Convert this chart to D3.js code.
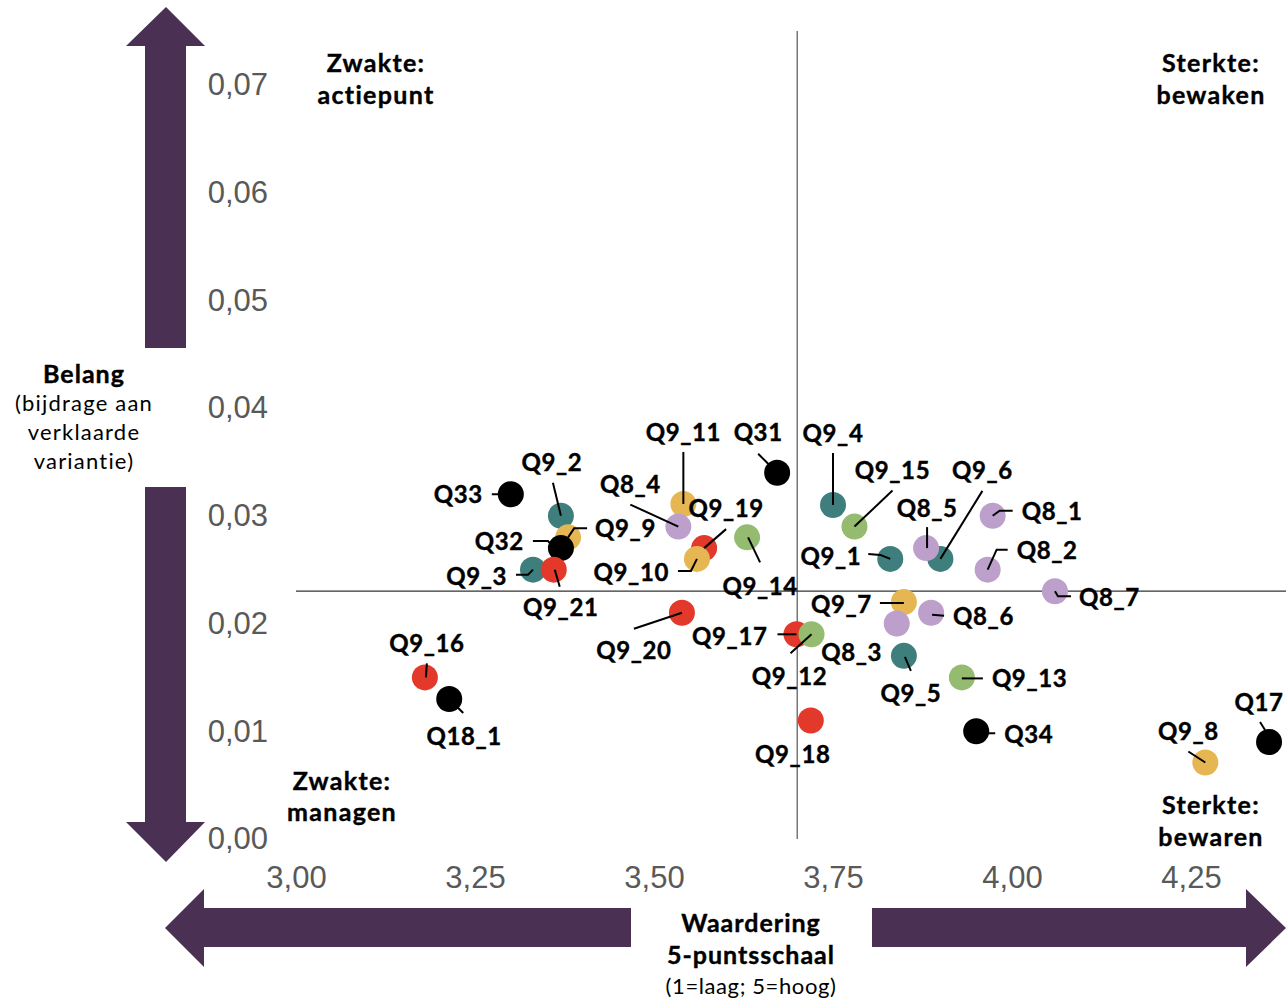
<!DOCTYPE html>
<html>
<head>
  <meta charset="utf-8">
  <script src="https://d3js.org/d3.v7.min.js"></script>
  <style>
    body { margin: 0; background: #fff; }
    svg { display: block; }
  </style>
</head>
<body>
<script>
// data
var names      = ["Q33","Q9_2","Q9_9","Q32","Q9_3","Q9_21","Q9_11","Q31","Q8_4","Q9_19","Q9_10","Q9_14",
                  "Q9_4","Q9_15","Q9_6","Q8_5","Q9_1","Q8_1","Q8_2","Q8_7","Q9_7","Q8_6","Q8_3","Q9_5",
                  "Q9_13","Q34","Q9_8","Q17","Q9_20","Q9_17","Q9_12","Q9_18","Q9_16","Q18_1"];
var waardering = [3.300,3.370,3.380,3.370,3.331,3.360,3.541,3.672,3.534,3.570,3.560,3.630,
                  3.750,3.780,3.900,3.880,3.830,3.973,3.966,4.060,3.849,3.887,3.839,3.849,
                  3.930,3.950,4.270,4.359,3.539,3.699,3.720,3.719,3.180,3.214];
var belang     = [0.0320,0.0300,0.0280,0.0270,0.0250,0.0250,0.0311,0.0340,0.0290,0.0270,0.0260,0.0280,
                  0.0310,0.0290,0.0260,0.0270,0.0260,0.0300,0.0250,0.0230,0.0220,0.0210,0.0200,0.0170,
                  0.0150,0.0100,0.0071,0.0090,0.0210,0.0190,0.0190,0.0110,0.0150,0.0130];
var groep      = ["zwart","blauwgroen","geel","zwart","blauwgroen","rood","geel","zwart","paars","rood","geel","groen",
                  "blauwgroen","groen","blauwgroen","paars","blauwgroen","paars","paars","paars","geel","paars","paars","blauwgroen",
                  "groen","zwart","geel","zwart","rood","rood","groen","rood","rood","zwart"];
var yTicks = [0, 0.01, 0.02, 0.03, 0.04, 0.05, 0.06, 0.07];
var xTicks = [3.00, 3.25, 3.50, 3.75, 4.00, 4.25];
var splitX = 3.70, splitY = 0.023;

var kleuren = {zwart:"#000000", blauwgroen:"#3e7e7c", geel:"#e6b653", paars:"#bca0cb", rood:"#e2392a", groen:"#95bb70"};

// label placement (px offsets from the dot): dx, dy, anchor, leader line points
var labelPos = {
  "Q33":  [-28,   0, "end",    [[-19,0],[-11,0]]],
  "Q9_2": [-9,  -53, "middle", [[-8,-33],[0,0]]],
  "Q9_9": [27,   -9, "start",  [[19,-9],[6,-9],[0,0]]],
  "Q32":  [-37,  -7, "end",    [[-28,-7],[-13,-7],[-9,-3]]],
  "Q9_3": [-26,   7, "end",    [[-17,5],[-5,5],[0,0]]],
  "Q9_21":[7,    38, "middle", [[1,0],[6,17]]],
  "Q9_11":[0,   -72, "middle", [[0,-52],[0,0]]],
  "Q31":  [-19, -40, "middle", [[-19,-19],[-8,-8]]],
  "Q8_4": [-48, -42, "middle", [[-48,-22],[0,0]]],
  "Q9_19":[22,  -40, "middle", [[22,-19],[0,0]]],
  "Q9_10":[-28,  13, "end",    [[-19,12],[-6,12],[0,0]]],
  "Q9_14":[13,   49, "middle", [[1,0],[13,25]]],
  "Q9_4": [0,   -72, "middle", [[0,-52],[0,0]]],
  "Q9_15":[38,  -56, "middle", [[38,-36],[0,0]]],
  "Q9_6": [42,  -89, "middle", [[42,-68],[0,0]]],
  "Q8_5": [1,   -40, "middle", [[1,-21],[1,0]]],
  "Q9_1": [-29,  -3, "end",    [[-22,-5],[-10,-4],[0,0]]],
  "Q8_1": [29,   -4, "start",  [[0,0],[7,-5],[20,-5]]],
  "Q8_2": [29,  -19, "start",  [[0,0],[9,-20],[20,-20]]],
  "Q8_7": [24,    6, "start",  [[0,0],[3,5],[16,5]]],
  "Q9_7": [-32,   2, "end",    [[-24,1],[0,1]]],
  "Q8_6": [22,    4, "start",  [[1,2],[13,3]]],
  "Q8_3": [-45,  29, "middle", []],
  "Q9_5": [7,    38, "middle", [[1,1],[7,15]]],
  "Q9_13":[30,    1, "start",  [[0,1],[21,1]]],
  "Q34":  [28,    3, "start",  [[11,2],[19,2]]],
  "Q9_8": [-17, -31, "middle", [[-17,-11],[0,0]]],
  "Q17":  [-10, -40, "middle", [[-9,-20],[-4,-12]]],
  "Q9_20":[-48,  38, "middle", [[-48,16],[0,0]]],
  "Q9_17":[-29,   2, "end",    [[-19,0],[0,0]]],
  "Q9_12":[-22,  42, "middle", [[0,0],[-21,19]]],
  "Q9_18":[-18,  34, "middle", []],
  "Q9_16":[2,   -34, "middle", [[2,-14],[1,0]]],
  "Q18_1":[15,   37, "middle", [[9,9],[14,14]]]
};

var W = 1286, H = 998;
var x = d3.scaleLinear().domain([3, 3 + 990 / 716]).range([296, 1286]);
var y = d3.scaleLinear().domain([0, 0.075]).range([839, 31]);
var komma = function(d) { return d3.format(".2f")(d).replace(".", ","); };

var svg = d3.select("body").append("svg").attr("width", W).attr("height", H);

var paars = "#4a3153";
// arrows
svg.append("path").attr("fill", paars)
  .attr("d", "M166,7 L205,46 L186,46 L186,348 L145,348 L145,46 L126,46 Z");
svg.append("path").attr("fill", paars)
  .attr("d", "M145,487 L186,487 L186,822 L205,822 L166,862 L126,822 L145,822 Z");
svg.append("path").attr("fill", paars)
  .attr("d", "M165,928 L204,889 L204,908 L631,908 L631,947 L204,947 L204,967 Z");
svg.append("path").attr("fill", paars)
  .attr("d", "M872,908 L1246,908 L1246,889 L1286,928 L1246,967 L1246,947 L872,947 Z");

// axes
var yAxis = svg.append("g").attr("transform", "translate(270,0)")
  .call(d3.axisLeft(y).tickValues(yTicks).tickFormat(komma).tickSize(0).tickPadding(2));
var xAxis = svg.append("g").attr("transform", "translate(0,856)")
  .call(d3.axisBottom(x).tickValues(xTicks).tickFormat(komma).tickSize(0).tickPadding(10));
[yAxis, xAxis].forEach(function(g) {
  g.select(".domain").remove();
  g.selectAll("text").attr("font-family", "'Liberation Sans', Arial, sans-serif")
    .attr("font-size", 31).attr("fill", "#595959");
});
yAxis.selectAll("text").attr("dy", "0.32em");

// quadrant lines
svg.append("line").attr("x1", x(splitX)).attr("x2", x(splitX)).attr("y1", y(0.075)).attr("y2", y(0))
  .attr("stroke", "#555").attr("stroke-width", 1.2);
svg.append("line").attr("x1", x(3)).attr("x2", W).attr("y1", y(splitY)).attr("y2", y(splitY))
  .attr("stroke", "#333").attr("stroke-width", 1.2);

var data = names.map(function(n, i) {
  return {naam: n, w: waardering[i], b: belang[i], g: groep[i]};
});

// dots
svg.append("g").selectAll("circle").data(data).enter().append("circle")
  .attr("cx", function(d) { return x(d.w); })
  .attr("cy", function(d) { return y(d.b); })
  .attr("r", 13)
  .attr("fill", function(d) { return kleuren[d.g]; });

// leader lines
var lijn = d3.line();
svg.append("g").selectAll("path").data(data.filter(function(d) { return labelPos[d.naam][3].length; }))
  .enter().append("path")
  .attr("fill", "none").attr("stroke", "#000").attr("stroke-width", 2)
  .attr("d", function(d) {
    var cx = x(d.w), cy = y(d.b);
    return lijn(labelPos[d.naam][3].map(function(p) { return [cx + p[0], cy + p[1]]; }));
  });

// point labels
svg.append("g").selectAll("text").data(data).enter().append("text")
  .attr("x", function(d) { return x(d.w) + labelPos[d.naam][0]; })
  .attr("y", function(d) { return y(d.b) + labelPos[d.naam][1]; })
  .attr("dy", "0.36em")
  .attr("text-anchor", function(d) { return labelPos[d.naam][2]; })
  .attr("font-family", "Lato, sans-serif").attr("font-weight", 700)
  .attr("font-size", 24).attr("letter-spacing", 0.6)
  .attr("stroke", "#000").attr("stroke-width", 0.4)
  .text(function(d) { return d.naam; });

// quadrant and axis titles
function tekst(str, tx, ty, size, weight, spacing) {
  svg.append("text").attr("x", tx).attr("y", ty).attr("text-anchor", "middle")
    .attr("font-family", "Lato, sans-serif").attr("font-weight", weight)
    .attr("font-size", size).attr("letter-spacing", spacing)
    .attr("stroke", weight == 700 ? "#000" : "none").attr("stroke-width", 0.4)
    .text(str);
}
tekst("Zwakte:", 376, 72, 25, 700, 1.3);
tekst("actiepunt", 376, 104, 25, 700, 1.3);
tekst("Sterkte:", 1211, 72, 25, 700, 1.3);
tekst("bewaken", 1211, 104, 25, 700, 1.3);
tekst("Zwakte:", 342, 790, 25, 700, 1.3);
tekst("managen", 342, 821, 25, 700, 1.3);
tekst("Sterkte:", 1211, 814, 25, 700, 1.3);
tekst("bewaren", 1211, 846, 25, 700, 1.3);

tekst("Belang", 84, 383, 25, 700, 1);
tekst("(bijdrage aan", 84, 411, 22, 400, 1.2);
tekst("verklaarde", 84, 440, 22, 400, 1.2);
tekst("variantie)", 84, 469, 22, 400, 1.2);

tekst("Waardering", 751, 932, 25, 700, 1);
tekst("5-puntsschaal", 751, 964, 25, 700, 1);
tekst("(1=laag; 5=hoog)", 751, 994, 22, 400, 0.6);
</script>
</body>
</html>
